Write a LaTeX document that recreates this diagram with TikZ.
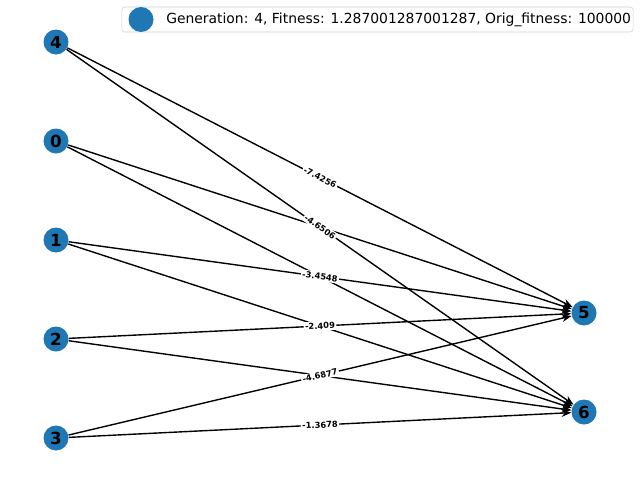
\documentclass[tikz,border=0pt]{standalone}
\usepackage{fontspec}
\setmainfont{DejaVu Sans}
\usetikzlibrary{arrows.meta}
\definecolor{nxBlue}{HTML}{1F77B4}

\begin{document}
\begin{tikzpicture}[x=0.72pt, y=-0.72pt,
  vertex/.style={circle, fill=nxBlue, minimum size=18pt, inner sep=0pt,
    font=\fontsize{12}{12}\selectfont\bfseries},
  edge/.style={-{Stealth[length=7pt,width=5.5pt]}, line width=1pt},
  elabel/.style={fill=white, inner sep=1pt, sloped,
    font=\fontsize{6}{6}\selectfont\bfseries}]
  \useasboundingbox (0,0) rectangle (640,480);
  % graph nodes
  \node[vertex] (n4) at (56,42) {4};
  \node[vertex] (n0) at (56,141) {0};
  \node[vertex] (n1) at (56,240) {1};
  \node[vertex] (n2) at (56,339) {2};
  \node[vertex] (n3) at (56,438) {3};
  \node[vertex] (n5) at (584,313) {5};
  \node[vertex] (n6) at (584,412) {6};
  % edges
  \foreach \s in {4,0,1,2,3}
    \foreach \t in {5,6}
      \draw[edge] (n\s) -- (n\t);
  % edge weights (only the ones left visible)
  \path (n4) -- node[elabel] {-7.4256} (n5);
  \path (n4) -- node[elabel] {-4.6506} (n6);
  \path (n1) -- node[elabel] {-3.4548} (n5);
  \path (n2) -- node[elabel] {-2.409} (n5);
  \path (n3) -- node[elabel] {-4.6877} (n5);
  \path (n3) -- node[elabel] {-1.3678} (n6);
  % legend
  \node[draw=black!18, fill=white, rounded corners=2pt, minimum width=368pt,
    minimum height=18pt, inner sep=0pt] (legbox) at (377.5,19.5) {};
  \node[vertex] (legmark) at (141,19.5) {};
  \node[anchor=west, inner sep=0pt, font=\fontsize{10}{12}\selectfont] (legtext)
    at (166,19.5) {Generation: 4, Fitness: 1.287001287001287, Orig\_fitness: 100000};
\end{tikzpicture}
\end{document}
